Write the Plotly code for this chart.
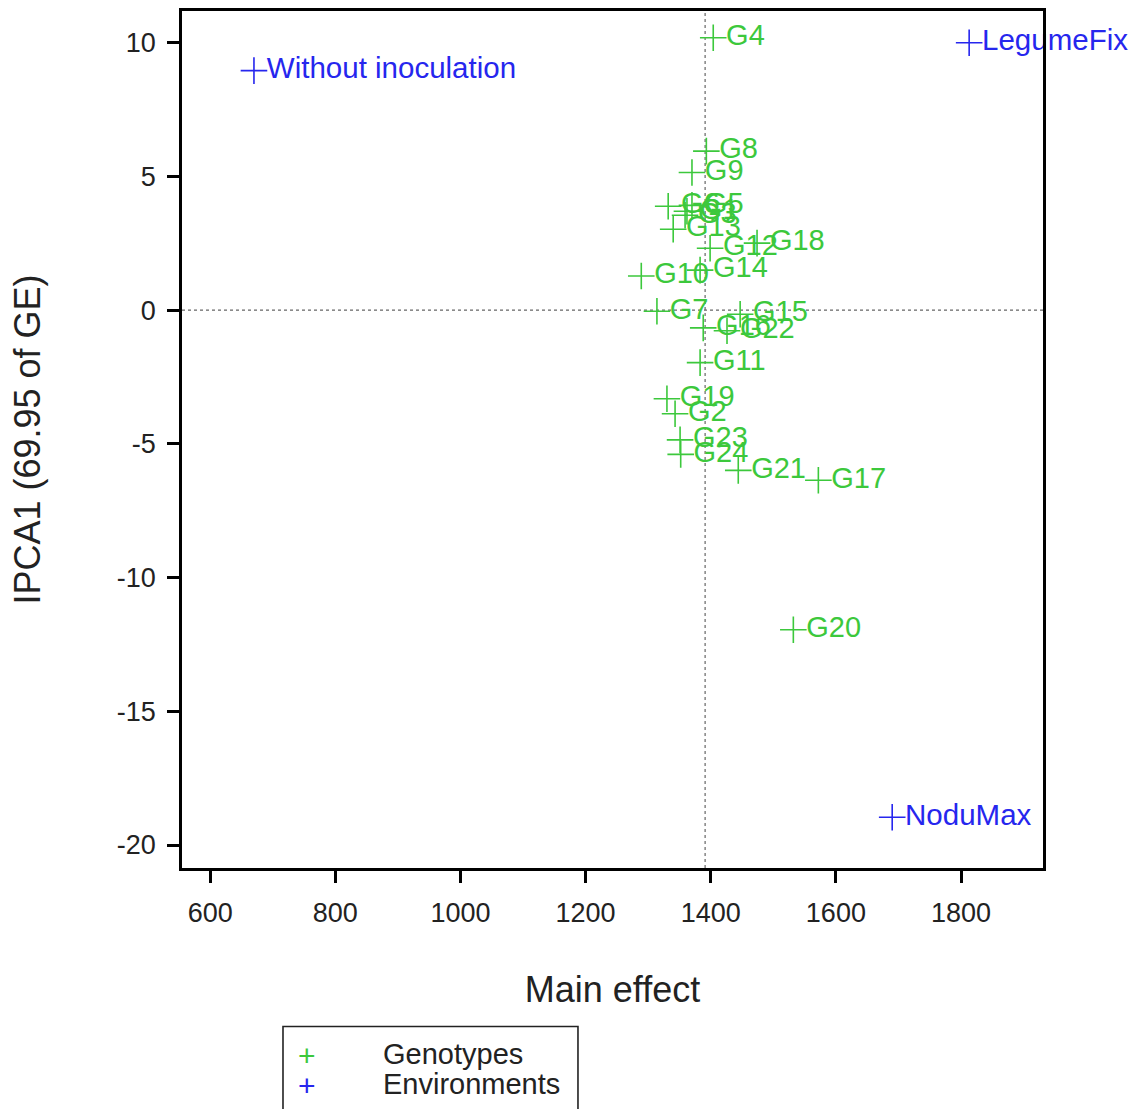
import plotly.graph_objects as go

genotypes = ["G1", "G2", "G3", "G4", "G5", "G6", "G7", "G8", "G9", "G10", "G11", "G12",
             "G13", "G14", "G15", "G16", "G17", "G18", "G19", "G20", "G21", "G22", "G23", "G24"]
geno_main = [1362, 1343, 1359, 1404, 1370, 1332, 1314, 1393, 1370, 1289, 1383, 1399,
             1340, 1383, 1447, 1388, 1572, 1474, 1330, 1532, 1444, 1426, 1351, 1352]
geno_ipca1 = [3.70, -3.87, 3.55, 10.19, 3.92, 3.89, -0.04, 5.95, 5.15, 1.28, -1.96, 2.32,
              3.03, 1.50, -0.15, -0.66, -6.36, 2.51, -3.31, -11.95, -5.99, -0.77, -4.85, -5.39]

environments = ["Without inoculation", "LegumeFix", "NoduMax"]
env_main = [670, 1813, 1690]
env_ipca1 = [8.96, 10.0, -18.96]

x_ticks = [600, 800, 1000, 1200, 1400, 1600, 1800]
y_ticks = [10, 5, 0, -5, -10, -15, -20]

GREEN = "#3cc83c"
BLUE = "#2626ee"
FONT = "Liberation Sans, Arial, sans-serif"

grand_mean = sum(env_main) / len(env_main)

fig = go.Figure()

fig.add_trace(go.Scatter(
    x=geno_main, y=geno_ipca1, text=genotypes, mode="markers+text",
    textposition="middle right",
    marker=dict(symbol="cross-thin", size=19, line=dict(color=GREEN, width=1.6), color=GREEN),
    textfont=dict(family=FONT, size=29, color=GREEN),
    name="Genotypes", showlegend=False, cliponaxis=False,
))
fig.add_trace(go.Scatter(
    x=env_main, y=env_ipca1, text=environments, mode="markers+text",
    textposition="middle right",
    marker=dict(symbol="cross-thin", size=19, line=dict(color=BLUE, width=1.6), color=BLUE),
    textfont=dict(family=FONT, size=29.5, color=BLUE),
    name="Environments", showlegend=False, cliponaxis=False,
))

# reference lines
fig.add_shape(type="line", xref="x", yref="paper", x0=grand_mean, x1=grand_mean, y0=0, y1=1,
              line=dict(color="#666666", width=1.2, dash="dot"), layer="below")
fig.add_shape(type="line", xref="paper", yref="y", x0=0, x1=1, y0=0, y1=0,
              line=dict(color="#666666", width=1.2, dash="dot"), layer="below")

# manual legend box
fig.add_shape(type="rect", xref="paper", yref="paper", x0=0.1173, x1=0.4599, y0=-0.40, y1=-0.1849,
              line=dict(color="#222222", width=1.6), fillcolor="rgba(0,0,0,0)")
fig.add_annotation(xref="paper", yref="paper", x=(307 - 182) / 861, y=(868 - 1056) / 860,
                   text="+", showarrow=False, font=dict(family=FONT, size=30, color=GREEN),
                   xanchor="center", yanchor="middle")
fig.add_annotation(xref="paper", yref="paper", x=(307 - 182) / 861, y=(868 - 1086) / 860,
                   text="+", showarrow=False, font=dict(family=FONT, size=30, color=BLUE),
                   xanchor="center", yanchor="middle")
fig.add_annotation(xref="paper", yref="paper", x=(381 - 182) / 861, y=(868 - 1055) / 860,
                   text="Genotypes", showarrow=False, font=dict(family=FONT, size=29, color="#222222"),
                   xanchor="left", yanchor="middle")
fig.add_annotation(xref="paper", yref="paper", x=(381 - 182) / 861, y=(868 - 1085) / 860,
                   text="Environments", showarrow=False, font=dict(family=FONT, size=29, color="#222222"),
                   xanchor="left", yanchor="middle")

fig.update_layout(
    width=1135, height=1109,
    margin=dict(l=182, r=92, t=8, b=241),
    paper_bgcolor="white", plot_bgcolor="white",
    font=dict(family=FONT, color="#222222"),
    showlegend=False,
)
fig.update_xaxes(
    range=[555, 1931], tickvals=x_ticks, ticktext=[str(v) for v in x_ticks],
    showgrid=False, zeroline=False, showline=True, linecolor="black", linewidth=2.5, mirror=True,
    ticks="outside", ticklen=12, tickwidth=2.5, tickcolor="black", ticklabelstandoff=7,
    tickfont=dict(family=FONT, size=27, color="#222222"),
    title=dict(text="Main effect", font=dict(family=FONT, size=36, color="#222222"), standoff=50),
)
fig.update_yaxes(
    range=[-20.86, 11.19], tickvals=y_ticks, ticktext=[str(v) for v in y_ticks],
    showgrid=False, zeroline=False, showline=True, linecolor="black", linewidth=2.5, mirror=True,
    ticks="outside", ticklen=12, tickwidth=2.5, tickcolor="black", ticklabelstandoff=6,
    tickfont=dict(family=FONT, size=27, color="#222222"),
    title=dict(text="IPCA1 (69.95 of GE)", font=dict(family=FONT, size=36, color="#222222"), standoff=66),
)

fig.write_html("out.html")
